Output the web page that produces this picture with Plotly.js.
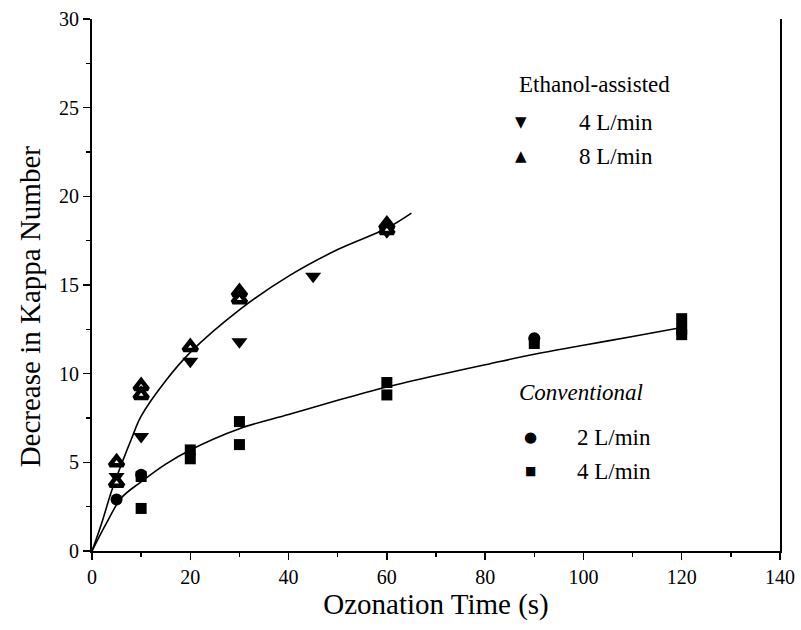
<!DOCTYPE html>
<html>
<head>
<meta charset="utf-8">
<script src="https://cdn.plot.ly/plotly-3.0.1.min.js"></script>
<style>html,body{margin:0;padding:0;background:#fff}#chart{width:801px;height:630px}</style>
</head>
<body>
<div id="chart"></div>
<script>
// Ethanol-assisted, 4 L/min (filled down triangles)
const eth4X = [5, 10, 20, 30, 45, 60];
const eth4Y = [4.2, 6.45, 10.7, 11.8, 15.5, 18.0];
// Ethanol-assisted, 8 L/min (up triangles)
const eth8X = [5, 5, 10, 10, 20, 30, 30, 60, 60];
const eth8Y = [5.0, 3.85, 9.3, 8.8, 11.5, 14.6, 14.2, 18.4, 18.1];
// Conventional, 2 L/min (circles)
const conv2X = [5, 10, 90];
const conv2Y = [2.9, 4.3, 12.0];
// Conventional, 4 L/min (squares)
const conv4X = [10, 10, 20, 20, 30, 30, 60, 60, 90, 120, 120, 120];
const conv4Y = [2.4, 4.2, 5.2, 5.7, 7.3, 6.0, 9.5, 8.8, 11.7, 13.1, 12.5, 12.2];
// Fitted curves
const fitEthX = [0, 2, 4, 6, 8, 10, 15, 20, 30, 40, 50, 60, 65];
const fitEthY = [0, 1.6, 3.4, 4.9, 6.3, 7.6, 9.6, 11.2, 13.6, 15.5, 17.0, 18.2, 19.05];
const fitConvX = [0, 3, 6, 10, 15, 20, 30, 40, 50, 60, 70, 80, 90, 100, 110, 120];
const fitConvY = [0, 1.6, 3.0, 3.9, 4.9, 5.7, 6.9, 7.7, 8.5, 9.25, 9.9, 10.5, 11.1, 11.6, 12.1, 12.6];
// Labels
const xTitle = "Ozonation Time (s)";
const yTitle = "Decrease in Kappa Number";
const groupEth = "Ethanol-assisted";
const groupConv = "Conventional";
const rate4 = "4 L/min", rate8 = "8 L/min", rate2 = "2 L/min";

const serif = "Liberation Serif, Times New Roman, serif";

const traces = [
  {x: fitEthX, y: fitEthY, mode: "lines", line: {color: "black", width: 1.6, shape: "spline"}, hoverinfo: "skip"},
  {x: fitConvX, y: fitConvY, mode: "lines", line: {color: "black", width: 1.6, shape: "spline"}, hoverinfo: "skip"},
  {x: eth4X, y: eth4Y, mode: "markers", name: groupEth + " " + rate4,
   marker: {symbol: "triangle-down", size: 14, color: "black"}},
  {x: eth8X, y: eth8Y, mode: "markers", name: groupEth + " " + rate8,
   marker: {symbol: "triangle-up", size: 12, color: "white", line: {color: "black", width: 4.5}}},
  {x: conv2X, y: conv2Y, mode: "markers", name: groupConv + " " + rate2,
   marker: {symbol: "circle", size: 12, color: "black"}},
  {x: conv4X, y: conv4Y, mode: "markers", name: groupConv + " " + rate4,
   marker: {symbol: "square", size: 11, color: "black"}}
];

const legFont = {family: serif, size: 23, color: "black"};
const symFont = {family: "DejaVu Sans", size: 15, color: "black"};
function ann(x, y, text, extra) {
  return Object.assign({xref: "paper", yref: "paper", x: x, y: y, text: text, showarrow: false,
    xanchor: "left", yanchor: "middle", font: legFont}, extra || {});
}

const layout = {
  width: 801, height: 630,
  margin: {l: 92, r: 21, t: 19, b: 79},
  paper_bgcolor: "white", plot_bgcolor: "white",
  showlegend: false,
  font: {family: serif, color: "black"},
  xaxis: {
    range: [0, 140], dtick: 20, tick0: 0,
    showgrid: false, zeroline: false,
    showline: true, linecolor: "black", linewidth: 2,
    ticks: "outside", ticklen: 7, tickwidth: 1.5, tickcolor: "black",
    minor: {ticks: "outside", ticklen: 4, tickwidth: 1.5, tickcolor: "black", dtick: 10, showgrid: false},
    tickfont: {family: serif, size: 20, color: "black"},
    title: {text: xTitle, font: {family: serif, size: 29, color: "black"}, standoff: 6}
  },
  yaxis: {
    range: [0, 30], dtick: 5, tick0: 0,
    showgrid: false, zeroline: false,
    showline: true, linecolor: "black", linewidth: 2, mirror: true,
    ticks: "outside", ticklen: 7, tickwidth: 1.5, tickcolor: "black",
    minor: {ticks: "outside", ticklen: 4, tickwidth: 1.5, tickcolor: "black", dtick: 2.5, showgrid: false},
    tickfont: {family: serif, size: 20, color: "black"}
  },
  annotations: [
    ann(-0.090, 0.46, yTitle, {xanchor: "center", textangle: -90, font: {family: serif, size: 29, color: "black"}}),
    ann(0.618, 0.876, groupEth),
    ann(0.624, 0.806, "▼", {xanchor: "center", font: symFont}),
    ann(0.705, 0.806, rate4),
    ann(0.624, 0.742, "▲", {xanchor: "center", font: symFont}),
    ann(0.705, 0.742, rate8),
    ann(0.618, 0.297, groupConv, {font: {family: serif, size: 23, color: "black", style: "italic"}}),
    ann(0.638, 0.214, "●", {xanchor: "center", font: symFont}),
    ann(0.702, 0.214, rate2),
    ann(0.638, 0.150, "■", {xanchor: "center", font: {family: "DejaVu Sans", size: 12, color: "black"}}),
    ann(0.702, 0.150, rate4)
  ]
};

Plotly.newPlot("chart", traces, layout, {displayModeBar: false, staticPlot: true});
</script>
</body>
</html>
